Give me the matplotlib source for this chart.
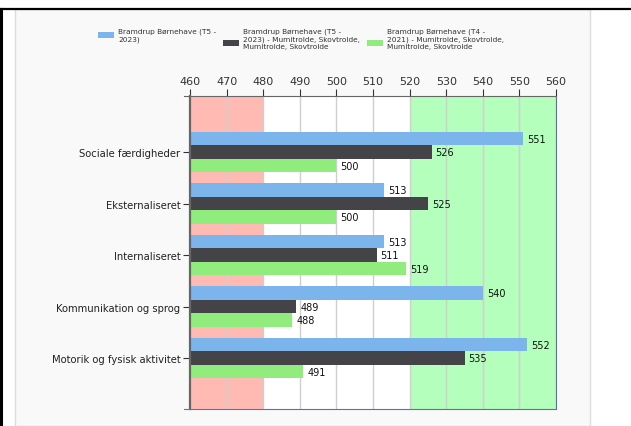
import matplotlib
matplotlib.use('Agg')
import numpy as np
import matplotlib.pyplot as plt
from matplotlib.patches import Rectangle
from matplotlib.lines import Line2D

categories = ['Sociale færdigheder', 'Eksternaliseret', 'Internaliseret',
              'Kommunikation og sprog', 'Motorik og fysisk aktivitet']
series_names = ['Bramdrup Børnehave (T5 -\n2023)',
                'Bramdrup Børnehave (T5 -\n2023) - Mumitrolde, Skovtrolde,\nMumitrolde, Skovtrolde',
                'Bramdrup Børnehave (T4 -\n2021) - Mumitrolde, Skovtrolde,\nMumitrolde, Skovtrolde']
blue_vals = [551, 513, 513, 540, 552]
dark_vals = [526, 525, 511, 489, 535]
green_vals = [500, 500, 519, 488, 491]
colors = ['#7cb5ec', '#434348', '#90ed7d']
xticks = list(range(460, 561, 10))

W, H = 631, 427
fig = plt.figure(figsize=(W / 100, H / 100), dpi=100)
fig.patch.set_facecolor('white')

# outer frame pieces
fig.add_artist(Rectangle((15 / W, 0), (590 - 15) / W, (H - 10) / H, transform=fig.transFigure,
                         facecolor='#f9f9f9', edgecolor='#dcdcdc', lw=1, zorder=0))
fig.add_artist(Line2D([0, 1], [1 - 9.5 / H] * 2, transform=fig.transFigure, color='black', lw=1.6))
fig.add_artist(Line2D([1.2 / W] * 2, [0, 1 - 9.5 / H], transform=fig.transFigure, color='black', lw=2.2))

ax = fig.add_axes([190 / W, 1 - 410 / H, (556 - 190) / W, (410 - 97) / H])
ax.set_facecolor('white')

ax.axvspan(460, 480, color='#ffbbb3', zorder=0, lw=0)
ax.axvspan(520, 560, color='#b3ffbb', zorder=0, lw=0)
for t in xticks:
    ax.axvline(t, color='#cfcfcf', lw=1, zorder=1)

y = np.arange(len(categories))
h = 0.262
for i, (vals, c) in enumerate(zip([blue_vals, dark_vals, green_vals], colors)):
    pos = y + (i - 1) * h
    ax.barh(pos, np.array(vals) - 460, left=460, height=h, color=c, zorder=2)
    for p, v in zip(pos, vals):
        ax.text(v + 1.1, p, str(v), va='center', ha='left', fontsize=7.0, color='#111111', zorder=3)

ax.set_xlim(460, 560)
ax.set_ylim(4.99, -1.09)
ax.set_yticks(y)
ax.set_yticklabels(categories, fontsize=7.2, color='#222222')
ax.set_xticks(xticks)
ax.xaxis.tick_top()
ax.tick_params(axis='x', direction='out', length=5, labelsize=8.0, colors='#333333', pad=2)
ax.tick_params(axis='y', direction='out', length=5, color='#333333', pad=2)

ax.spines['left'].set_color('#666666')
ax.spines['left'].set_linewidth(1.6)
ax.spines['top'].set_color('#666666')
ax.spines['right'].set_color('#5a73a8')
ax.spines['bottom'].set_color('#5a73a8')

# small extensions of the top and bottom axis lines past the left axis
for yy, c in [(97, '#666666'), (410, '#5a73a8')]:
    fig.add_artist(Line2D([184 / W, 190 / W], [1 - yy / H] * 2, transform=fig.transFigure, color=c, lw=0.8))

# legend drawn manually
legend_x = [98, 223, 367]
legend_cy = [36, 44, 44]
for name, c, lx, cy in zip(series_names, colors, legend_x, legend_cy):
    fig.add_artist(Rectangle((lx / W, 1 - (cy + 3) / H), 16 / W, 6 / H, transform=fig.transFigure,
                             facecolor=c, edgecolor='none'))
    fig.text((lx + 20) / W, 1 - 28.5 / H, name, fontsize=5.3, va='top', ha='left',
             color='#333333', linespacing=1.3)

plt.savefig('out.png', dpi=100)
